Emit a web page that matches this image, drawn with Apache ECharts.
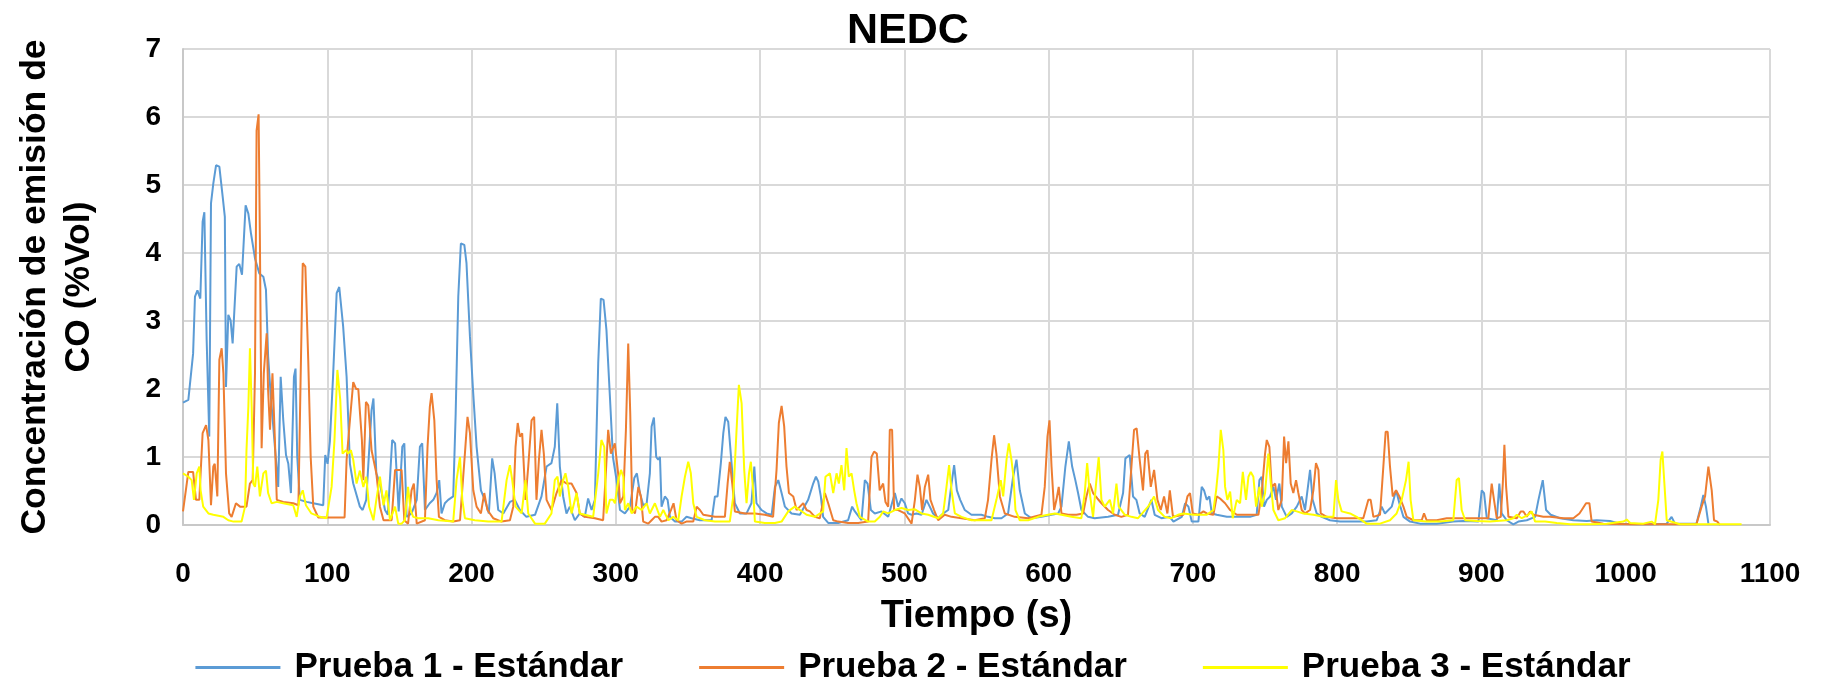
<!DOCTYPE html>
<html>
<head>
<meta charset="utf-8">
<script src="https://cdn.jsdelivr.net/npm/echarts@6/dist/echarts.min.js"></script>
<style>
html,body{margin:0;padding:0;background:#fff;}
#chart{width:1826px;height:684px;}
</style>
</head>
<body>
<div id="chart"></div>
<script>
// ---- Data (time in s, CO concentration in %Vol) ----
const seriesNames = ["Prueba 1 - Estándar", "Prueba 2 - Estándar", "Prueba 3 - Estándar"];

const t1 = [0,3.7,7,8.3,10,12,13.6,14.8,16.4,18.2,19.4,21,22.9,25.2,27.5,29,29.8,31.4,33,34.4,37.2,39,40.9,43.4,45.3,47.1,49.9,52.9,55.7,57.5,59,60.7,63.7,66,67.7,69.5,71.4,73,74.8,76.9,78,79.2,81,85.7,90.3,97.2,98.6,100.2,101.8,104,106.5,108.3,111,113.4,115.7,118,122.6,124.5,127,130.7,132,134,136.5,140,142,145,147,149.5,152,153.4,155,158.4,162,164.2,165.8,167.7,171,173.5,175.8,177.6,179.2,181.5,183.8,187.3,189,190.8,192.6,195,196.5,198.9,201,203.5,206.5,209.2,212,214.3,216,218.5,222,226.6,230,233.5,238,244,248.5,252,255.4,257.7,259.4,261.2,263.5,265.8,268.1,271.6,275,278.5,280.8,283.2,285.5,287.8,289.6,291.5,293.5,295.9,298,300.5,302.9,306.3,309.8,312.8,314.6,316.7,319,321.4,323.6,324.8,326.4,328,329.4,330.6,331.7,334,335.9,337.5,341,345.6,349,352.5,358.3,366.4,368.7,370.5,372.8,374.5,376,377.9,380.2,382.5,386,390.6,394,396,397.5,401,404.5,408,410.3,412.6,414.9,417.2,421.8,427.6,433.3,436.8,438.7,440.3,442.1,443.7,447.2,454.1,461,463.8,465.7,470.3,472.6,474.5,476.8,479.5,484.2,488.8,493.4,495.7,498,500.3,502.6,505,508.4,511.9,515.3,517.6,519.9,523.4,526.9,530.4,532.7,534.5,536.4,538.7,541.9,546.5,553.4,558,562.7,567.3,571.9,575.4,577.7,580,583.5,588.1,595,601.9,606.6,608.9,611.6,614,616.3,618.5,620.4,622.7,627.3,631.9,641.2,648.1,651.6,653.2,656.2,658.5,660.8,663.1,666.6,671.2,673.5,678.2,683.9,686.5,692.3,694.6,696.9,699.2,703.8,706.1,707.7,709.6,711.4,713.1,716.5,723.5,730.4,739.6,744.2,746.1,747.7,749.3,751.2,753.5,755.8,757.6,759.9,761.6,765,768.5,772,775.4,777.7,780,781.2,783,785.8,789.3,795,802,811.2,820.4,827.4,830.8,833.1,837.8,840.8,843.1,845.9,850.5,857.4,869,880.5,887.5,897.9,900.2,901.8,903.7,910.6,912.4,914,917.5,922.1,925.6,931.4,937.2,939.5,942.5,944.8,948,954.5,963.7,973,979.9,989.1,996,1007.6,1019.1,1028.4,1031.8,1034.1,1042.2,1049,1052,1053.8,1055.6,1057.3];
const v1 = [1.8,1.84,2.52,3.36,3.45,3.33,4.46,4.6,2.72,1.3,4.73,5.02,5.29,5.27,4.83,4.53,2.03,3.09,3.01,2.67,3.8,3.84,3.68,4.7,4.58,4.29,3.92,3.7,3.65,3.46,2.48,1.94,1.15,0.56,2.18,1.54,1.03,0.9,0.47,2.18,2.3,1.0,0.37,0.34,0.32,0.29,1.03,0.9,1.23,2.18,3.41,3.5,2.92,2.18,0.9,0.61,0.27,0.22,0.37,1.69,1.86,0.76,0.61,0.22,0.15,1.25,1.2,0.2,1.15,1.2,0.12,0.17,0.37,1.15,1.2,0.22,0.32,0.37,0.47,0.66,0.17,0.32,0.37,0.42,1.64,3.36,4.14,4.12,3.85,2.77,1.99,1.15,0.51,0.37,0.17,0.98,0.76,0.22,0.17,0.34,0.37,0.22,0.12,0.15,0.42,0.86,0.91,1.15,1.79,0.86,0.42,0.17,0.27,0.07,0.17,0.12,0.39,0.22,0.37,2.38,3.33,3.31,2.87,1.89,1.0,0.66,0.22,0.17,0.27,0.69,0.76,0.47,0.29,0.32,0.76,1.45,1.58,1.0,0.96,1.0,0.27,0.42,0.37,0.12,0.05,0.05,0.12,0.1,0.07,0.07,0.42,0.42,0.91,1.35,1.59,1.52,0.91,0.32,0.17,0.17,0.32,0.86,0.32,0.22,0.17,0.15,0.56,0.66,0.47,0.27,0.17,0.15,0.37,0.61,0.71,0.64,0.42,0.12,0.03,0.03,0.07,0.27,0.2,0.07,0.66,0.61,0.22,0.17,0.2,0.12,0.47,0.27,0.39,0.32,0.17,0.15,0.17,0.15,0.37,0.27,0.17,0.1,0.17,0.22,0.61,0.88,0.51,0.37,0.22,0.15,0.15,0.12,0.1,0.1,0.17,0.71,0.96,0.51,0.17,0.1,0.12,0.15,0.17,0.27,0.86,1.23,0.86,0.66,0.47,0.22,0.12,0.1,0.12,0.15,0.47,0.98,1.03,0.42,0.37,0.17,0.12,0.37,0.15,0.1,0.12,0.05,0.12,0.32,0.27,0.05,0.05,0.56,0.51,0.37,0.42,0.17,0.15,0.12,0.12,0.12,0.15,0.66,0.71,0.27,0.37,0.42,0.56,0.37,0.61,0.27,0.12,0.17,0.27,0.42,0.22,0.61,0.81,0.37,0.17,0.12,0.07,0.05,0.05,0.05,0.07,0.27,0.17,0.27,0.51,0.32,0.12,0.05,0.02,0.02,0.05,0.06,0.05,0.51,0.47,0.1,0.07,0.61,0.17,0.07,0.01,0.05,0.07,0.12,0.37,0.66,0.22,0.15,0.1,0.07,0.06,0.07,0.06,0.02,0.01,0.01,0.02,0.12,0.02,0.02,0.02,0.27,0.44,0.27,0.02];

const t2 = [0,3.7,7,9,11.3,13.6,16,17.6,19.4,21,22,23.8,25.2,26.8,28,29.8,32,33.7,36.7,39.5,44,46.4,48.3,49.9,51,52.4,53.3,54.5,56,58,59,60.3,62,63.7,65,69.5,76.4,80,81.5,83,84.8,86.8,88.5,90.3,93.8,112,113.4,115.7,118,120,121.5,124,125,126.8,128.4,130.7,134,136.5,139,144.6,147,151.5,153.4,156,158.4,160,162,167.7,169.5,171.1,172.3,174.2,175.8,177.4,181.5,187.3,192,195.4,197.2,198.9,201.2,203.5,206.5,208.8,211,215,220.8,226.6,228.9,230.5,232,233.5,235.1,237.4,239.3,241.6,243.4,245,246.7,248.5,250.1,252,255.4,258.9,262.4,265.8,269.3,272.8,275,278.5,285.5,291.2,292.8,294.7,296.6,299.3,301.6,302.9,305.2,307,308.6,310,311.4,313.3,315.6,317.4,319,322.5,324.8,327.1,329.4,331.7,335.2,338.2,340,342.1,345.6,348.9,353.7,356,358.3,360.6,368.7,375.6,377.5,379,380.7,382.5,389.5,396.4,403.3,409,411.4,413,414.9,416.7,418.3,420,423,425.3,427.6,429.9,432.2,434.5,438,441.4,444.9,447.2,450.7,454.1,461,468,474.9,477.2,479,480.9,482.9,485.3,486.9,488.8,489.9,491.5,492.9,495.7,500.3,505,507.3,509.1,510.7,512.3,514.2,516.5,518.1,520.6,523.4,528,532.7,539.6,548.8,555.8,558,560.4,562.2,563.8,566.2,569.6,576.5,585.8,595,597.3,599.2,600.6,602,603.8,605.4,607,608.9,613.5,619.3,623.9,626.2,628.5,630.8,633.8,636.6,641.2,645.8,650.4,655,657.4,659.2,661,663.1,665.4,667,668.5,670.8,673.1,675.4,677.7,680,682.3,684,686.2,693.4,696.2,698,699.9,703.8,707.3,709.6,714.2,716.5,718.8,722.3,725.8,730.4,737.3,745.4,747.7,750,751.2,753,754.6,757,759.2,761.6,763.2,764.6,766.2,767.8,769.6,771.5,773.1,775.4,777.7,781.2,783.5,785.3,787,788.6,792.7,799.7,808.9,818.1,821.6,823.2,825.1,829.7,832,833.6,835,836.6,838.5,840.8,843.1,845.9,848.2,852.8,858.6,860.2,862,869,875.9,885.1,896.7,904.8,907.1,908.7,910.6,913.4,914.8,915.9,917.1,918.7,924.5,927.2,929.1,931.4,933.7,936,942.9,947.5,956.8,963.7,967.9,969.5,972.5,974.8,976.4,984.5,1003,1049,1052.6,1055,1057.3,1059.6,1061.2,1063.5,1065.3];
const v2 = [0.2,0.78,0.78,0.37,0.37,1.35,1.47,1.25,0.29,0.86,0.9,0.42,2.43,2.6,2.23,0.76,0.17,0.12,0.32,0.27,0.27,0.61,0.66,2.23,5.8,6.04,4.19,1.13,2.23,2.82,1.98,1.4,2.23,1.25,0.37,0.34,0.32,0.29,2.13,3.85,3.8,2.43,1.0,0.27,0.11,0.11,0.96,1.54,2.1,2.0,2.0,1.25,0.66,1.81,1.76,1.1,0.76,0.27,0.07,0.07,0.81,0.81,0.07,0.02,0.51,0.61,0.02,0.07,1.15,1.74,1.94,1.54,0.66,0.12,0.07,0.05,0.07,1.05,1.59,1.35,0.51,0.27,0.17,0.47,0.22,0.1,0.05,0.07,0.27,1.15,1.5,1.3,1.35,0.37,0.86,1.54,1.59,0.37,0.96,1.4,1.05,0.37,0.22,0.47,0.66,0.61,0.61,0.47,0.17,0.12,0.1,0.07,0.66,1.4,1.05,1.2,0.76,0.32,0.42,1.4,2.67,1.64,0.22,0.17,0.56,0.42,0.05,0.02,0.07,0.12,0.12,0.05,0.07,0.22,0.32,0.07,0.02,0.05,0.05,0.27,0.22,0.15,0.12,0.12,0.61,0.93,0.61,0.2,0.17,0.17,0.15,0.12,0.81,1.5,1.75,1.45,0.86,0.47,0.42,0.22,0.27,0.32,0.22,0.2,0.12,0.1,0.47,0.32,0.07,0.05,0.03,0.03,0.05,1.0,1.08,1.05,0.51,0.61,0.34,0.27,1.4,1.4,0.22,0.22,0.17,0.02,0.37,0.74,0.56,0.22,0.56,0.74,0.37,0.22,0.07,0.15,0.12,0.1,0.07,0.1,0.37,0.96,1.32,1.05,0.42,0.17,0.12,0.1,0.15,0.56,1.3,1.54,0.86,0.22,0.37,0.56,0.17,0.15,0.15,0.17,0.42,0.61,0.47,0.39,0.32,0.22,0.15,0.12,0.15,0.86,1.4,1.42,0.96,0.51,1.05,1.1,0.56,0.81,0.37,0.22,0.42,0.17,0.51,0.12,0.15,0.42,0.47,0.17,0.15,0.2,0.17,0.15,0.42,0.39,0.32,0.22,0.15,0.15,0.15,0.47,1.05,1.25,1.15,0.56,0.61,0.22,0.37,1.3,0.91,1.23,0.61,0.47,0.66,0.47,0.22,0.17,0.22,0.51,0.91,0.81,0.17,0.12,0.1,0.1,0.1,0.37,0.37,0.12,0.15,0.86,1.37,1.37,0.86,0.42,0.51,0.42,0.27,0.12,0.07,0.07,0.17,0.07,0.07,0.1,0.1,0.1,0.1,0.61,0.37,0.1,0.12,0.61,1.18,0.56,0.12,0.1,0.2,0.2,0.12,0.2,0.15,0.12,0.12,0.1,0.1,0.17,0.22,0.32,0.32,0.05,0.02,0.01,0.01,0.27,0.42,0.86,0.51,0.07,0.05,0];

const t3 = [0,3.7,6,7.6,9.5,11.3,12.2,14,17.6,21,28,31.4,35,40.6,43,44,45.3,46.4,47.6,48.7,49.9,51.5,53.3,55.7,57.5,59,61.4,65,69.5,76.4,78.8,81,83,85.2,89,95,99.5,103,105,107,109,110.6,113,114.5,116.4,118,120.3,122.6,125,127,129,132,134,136.5,139,141,143.5,147,149.2,151.5,153.8,156,157.7,159.6,163,170,177,187.3,189.6,192,193.6,195.4,202.3,211.6,220.8,224.3,226.6,228.2,230.5,234.7,237.4,239.3,244,250.8,255.4,257.7,259.6,261.2,263.5,265.1,267,269.3,272.8,275,278.5,284.3,287.8,290,292,293.5,295.9,298,299.4,301.7,303.6,305.2,306.3,308.6,311,314.4,317.9,321.4,323.6,327.1,330.6,332.9,336.4,339.8,343.3,345.6,347.9,350.2,352,353.7,356,361.8,368.7,379,381.4,383.7,385.3,387.2,389,390.6,392.3,393.6,395.2,396.4,403.3,410.3,414.9,419.5,424,427.6,432.2,438,443.7,445.3,448.4,450.7,453,454.6,456.4,458.3,459.9,461.5,463.4,465.2,466.8,469.1,474.9,479.5,483,485.3,488.8,493.4,498,502.6,507.3,511.9,516.5,523.4,526.9,529.2,531,532.7,535,539.6,546.5,560.4,563.8,566.8,568.5,570.8,572.4,574.2,575.6,577,580,585.8,592.7,599.6,604.3,608.9,615.8,622.7,625,626.7,628.5,630.8,633.1,634.7,636.6,638.9,642.4,644.7,647,648.6,652.8,657.4,662,668.9,673.1,675.8,680.4,685,689.7,693.4,700.4,709.6,714.2,716.1,717.7,719.3,721.1,722.3,723.9,725.8,727.6,730.4,732.7,734.6,736.8,738.5,740.1,741.9,743.8,746.1,747.7,750,752.3,754,755.8,759.2,763.9,768.5,772,776.6,783.5,790.4,797.4,799.2,800.8,803.1,808.9,813.5,820.4,829.7,836.6,841.2,844.7,847.7,849.5,850.9,852.8,862,871.3,880.5,882.8,884.4,886.3,888.7,896.7,906,917.5,922.1,924.5,927.9,932.5,934.8,937.2,944.1,952.2,961.4,975.3,986.8,998.4,1000.7,1003,1012.2,1018,1020.3,1022.6,1024.2,1025.4,1026.8,1028.4,1037.6,1049,1063,1072.3,1080.3];
const v3 = [0.76,0.71,0.66,0.37,0.76,0.86,0.51,0.27,0.17,0.15,0.12,0.07,0.05,0.05,0.27,1.1,1.74,2.6,1.74,0.61,0.56,0.86,0.42,0.76,0.8,0.47,0.32,0.34,0.32,0.29,0.12,0.42,0.51,0.29,0.17,0.12,0.1,0.56,1.25,2.28,1.84,1.05,1.1,1.05,1.1,0.96,0.61,0.8,0.56,0.71,0.27,0.07,0.37,0.71,0.29,0.51,0.07,0.27,0.02,0.02,0.07,0.56,0.22,0.12,0.1,0.1,0.07,0.05,0.66,1.0,0.37,0.1,0.07,0.05,0.05,0.66,0.88,0.66,0.27,0.17,0.66,0.17,0.02,0.02,0.17,0.66,0.71,0.42,0.66,0.76,0.56,0.17,0.47,0.17,0.15,0.12,0.76,1.25,1.15,0.17,0.37,0.37,0.32,0.66,0.81,0.71,0.22,0.32,0.17,0.27,0.22,0.32,0.17,0.32,0.12,0.22,0.07,0.12,0.07,0.42,0.71,0.93,0.76,0.32,0.12,0.07,0.05,0.05,0.42,1.4,2.06,1.79,0.81,0.32,0.76,0.93,0.51,0.05,0.03,0.03,0.05,0.2,0.27,0.22,0.15,0.12,0.2,0.71,0.76,0.47,0.76,0.61,0.88,0.51,1.13,0.71,0.76,0.51,0.32,0.12,0.05,0.05,0.12,0.2,0.17,0.22,0.25,0.22,0.23,0.17,0.15,0.1,0.17,0.56,0.88,0.51,0.17,0.12,0.07,0.07,0.37,0.66,0.42,0.96,1.2,0.96,0.71,0.22,0.07,0.07,0.12,0.15,0.17,0.15,0.12,0.1,0.47,0.91,0.47,0.12,0.66,1.0,0.37,0.27,0.37,0.17,0.61,0.27,0.15,0.12,0.1,0.27,0.42,0.22,0.12,0.1,0.15,0.17,0.15,0.15,0.22,0.51,0.86,1.4,1.1,0.56,0.37,0.49,0.1,0.37,0.32,0.78,0.37,0.71,0.78,0.71,0.27,0.56,0.27,0.47,1.05,0.61,0.22,0.07,0.1,0.22,0.2,0.17,0.15,0.12,0.12,0.66,0.37,0.2,0.17,0.12,0.02,0.02,0.07,0.17,0.37,0.66,0.93,0.37,0.07,0.05,0.05,0.07,0.66,0.69,0.22,0.07,0.06,0.05,0.07,0.1,0.15,0.1,0.15,0.2,0.05,0.05,0.03,0.01,0.01,0.02,0.05,0.08,0.03,0.02,0.05,0.01,0.37,0.96,1.08,0.61,0.07,0.01,0.01,0.01,0.01,0.01];

const seriesColors = ["#5B9BD5", "#ED7D31", "#FFFF00"];
const times = [t1, t2, t3];
const values = [v1, v2, v3];

const FONT = "Liberation Sans, Arial, sans-serif";
const chart = echarts.init(document.getElementById('chart'), null, {renderer: 'canvas'});

const series = seriesNames.map((name, i) => ({
  name: name,
  type: 'line',
  data: times[i].map((t, k) => [t, values[i][k]]),
  showSymbol: false,
  symbol: 'none',
  lineStyle: {width: 2, color: seriesColors[i]},
  itemStyle: {color: seriesColors[i]},
  animation: false
}));

chart.setOption({
  animation: false,
  backgroundColor: '#ffffff',
  title: {
    text: 'NEDC',
    left: 842,
    top: 5,
    textStyle: {fontFamily: FONT, fontWeight: 'bold', fontSize: 43, color: '#000'}
  },
  grid: {left: 183, right: 56, top: 49, bottom: 159, containLabel: false},
  legend: {
    data: seriesNames,
    left: 'center',
    top: 645,
    icon: 'rect',
    itemWidth: 85,
    itemHeight: 3,
    itemGap: 76,
    textStyle: {fontFamily: FONT, fontWeight: 'bold', fontSize: 35, color: '#000', padding: [0, 0, 0, 9]}
  },
  xAxis: {
    type: 'value',
    min: 0, max: 1100, interval: 100,
    name: 'Tiempo (s)',
    nameLocation: 'middle',
    nameGap: 73,
    nameTextStyle: {fontFamily: FONT, fontWeight: 'bold', fontSize: 38, color: '#000'},
    axisLine: {show: true, lineStyle: {color: '#C8C8C8', width: 2}},
    axisTick: {show: false},
    axisLabel: {fontFamily: FONT, fontWeight: 'bold', fontSize: 28, color: '#000', margin: 35,
      formatter: function (v) { return String(v); }},
    splitLine: {show: true, lineStyle: {color: '#D9D9D9', width: 2}}
  },
  yAxis: {
    type: 'value',
    min: 0, max: 7, interval: 1,
    name: 'Concentración de emisión de\nCO (%Vol)',
    nameLocation: 'middle',
    nameGap: 82,
    nameRotate: 90,
    nameTextStyle: {fontFamily: FONT, fontWeight: 'bold', fontSize: 35.5, color: '#000', lineHeight: 44, align: 'center'},
    axisLine: {show: true, lineStyle: {color: '#C8C8C8', width: 2}},
    axisTick: {show: false},
    axisLabel: {fontFamily: FONT, fontWeight: 'bold', fontSize: 28, color: '#000', margin: 22},
    splitLine: {show: true, lineStyle: {color: '#D9D9D9', width: 2}}
  },
  series: series
});
</script>
</body>
</html>
